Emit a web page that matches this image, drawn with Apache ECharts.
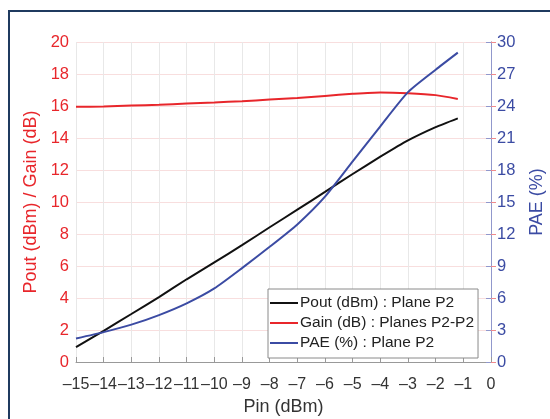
<!DOCTYPE html>
<html><head><meta charset="utf-8">
<script src="https://cdn.jsdelivr.net/npm/echarts@6/dist/echarts.min.js"></script>
<style>html,body{margin:0;padding:0;background:#fff}#c{width:550px;height:419px}</style>
</head><body><div id="c"></div>
<script>
const pin  = [-15, -14, -13, -12, -11, -10, -9, -8, -7, -6, -5, -4, -3, -2, -1.2];
const pout = [0.93, 1.95, 3.0, 4.06, 5.17, 6.23, 7.3, 8.42, 9.52, 10.63, 11.75, 12.83, 13.85, 14.68, 15.23];
const gain = [15.95, 15.97, 16.03, 16.08, 16.15, 16.22, 16.3, 16.4, 16.5, 16.63, 16.76, 16.85, 16.8, 16.68, 16.44];
const pae  = [2.2, 2.8, 3.5, 4.4, 5.5, 6.9, 8.8, 10.8, 12.9, 15.5, 18.8, 22.1, 25.3, 27.4, 29.0];
const xTicks = {min: -15, max: 0, interval: 1};
const leftTicks = {min: 0, max: 20, interval: 2};
const rightTicks = {min: 0, max: 30, interval: 3};
const names = ['Pout (dBm) : Plane P2', 'Gain (dB) : Planes P2-P2', 'PAE (%) : Plane P2'];

const RED = '#e8262b', BLUE = '#3b4ba3', BLACK = '#111111';
const font = 'Liberation Sans, Arial, sans-serif';
const pair = (xs, ys) => xs.map((x, i) => [x, ys[i]]);

const chart = echarts.init(document.getElementById('c'));
chart.setOption({
  animation: false,
  backgroundColor: '#fff',
  textStyle: {fontFamily: font},
  graphic: [{type: 'rect', shape: {x: 9, y: 11, width: 600, height: 500},
    style: {fill: 'none', stroke: '#1f3a5f', lineWidth: 2}, z: 100}],
  grid: {left: 76, right: 59, top: 42, bottom: 57, containLabel: false, outerBoundsMode: 'none'},
  legend: {
    left: 268, top: 289, orient: 'vertical', icon: 'rect', itemWidth: 28, itemHeight: 2, itemGap: 4,
    padding: [6, 4, 7, 2], borderColor: '#8a8a8a', borderWidth: 1, backgroundColor: '#fff',
    textStyle: {fontFamily: font, fontSize: 15.5, color: '#222', padding: [0, 0, 0, -3]},
    data: names
  },
  xAxis: {
    type: 'value', min: xTicks.min, max: xTicks.max, interval: xTicks.interval,
    name: 'Pin (dBm)', nameLocation: 'middle', nameGap: 36,
    nameTextStyle: {fontFamily: font, fontSize: 18, color: '#333'},
    axisLine: {lineStyle: {color: '#999', width: 1}},
    axisTick: {inside: true, length: 5, lineStyle: {color: '#999'}},
    axisLabel: {fontFamily: font, fontSize: 16, color: '#333', margin: 15, hideOverlap: false,
      formatter: v => String(v).replace('-', '\u2013')},
    splitLine: {show: true, lineStyle: {color: '#e8e8e8', width: 1}}
  },
  yAxis: [{
    type: 'value', position: 'left', min: leftTicks.min, max: leftTicks.max, interval: leftTicks.interval,
    name: 'Pout (dBm) / Gain (dB)', nameLocation: 'middle', nameGap: 27,
    nameTextStyle: {fontFamily: font, fontSize: 18, color: RED},
    axisLine: {show: true, lineStyle: {color: '#f08a8c', width: 1}},
    axisTick: {show: true, inside: true, length: 5, lineStyle: {color: '#f08a8c'}},
    axisLabel: {fontFamily: font, fontSize: 16.5, color: RED, margin: 7},
    splitLine: {show: true, lineStyle: {color: '#f8dede', width: 1}}
  }, {
    type: 'value', position: 'right', min: rightTicks.min, max: rightTicks.max, interval: rightTicks.interval,
    name: 'PAE (%)', nameLocation: 'middle', nameGap: 37, nameRotate: 90,
    nameTextStyle: {fontFamily: font, fontSize: 18, color: BLUE},
    axisLine: {show: true, lineStyle: {color: '#9198cc', width: 1}},
    axisTick: {show: true, inside: true, length: 5, lineStyle: {color: '#9198cc'}},
    axisLabel: {fontFamily: font, fontSize: 16.5, color: BLUE, margin: 6},
    splitLine: {show: false}
  }],
  series: [
    {name: names[0], type: 'line', yAxisIndex: 0, data: pair(pin, pout), symbol: 'none', smooth: 0.2,
     lineStyle: {color: BLACK, width: 2}, itemStyle: {color: BLACK}},
    {name: names[1], type: 'line', yAxisIndex: 0, data: pair(pin, gain), symbol: 'none', smooth: 0.2,
     lineStyle: {color: RED, width: 2}, itemStyle: {color: RED}},
    {name: names[2], type: 'line', yAxisIndex: 1, data: pair(pin, pae), symbol: 'none', smooth: 0.2,
     lineStyle: {color: BLUE, width: 2}, itemStyle: {color: BLUE}}
  ]
});
</script></body></html>
